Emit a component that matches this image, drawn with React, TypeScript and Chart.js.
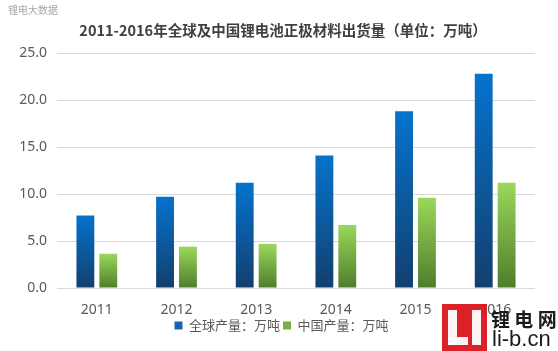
import React, { useEffect, useRef } from "react";
import { Chart, registerables } from "chart.js";

Chart.register(...registerables);

const categories = ["2011", "2012", "2013", "2014", "2015", "2016"];
const globalOutput = [7.7, 9.7, 11.2, 14.1, 18.8, 22.8];
const chinaOutput = [3.65, 4.4, 4.7, 6.7, 9.6, 11.2];
const seriesNames = ["全球产量：万吨", "中国产量：万吨"];
const titleText = "2011-2016年全球及中国锂电池正极材料出货量（单位：万吨）";
const watermarkText = "锂电大数据";
const logoTexts = ["锂电网", "li-b.cn"];

const FONT = "'Noto Sans', 'Noto Sans CJK SC', sans-serif";
const CJK = "'Noto Sans CJK SC', sans-serif";

function gradientFill(top: string, bottom: string, solid: string) {
  return (ctx: any) => {
    const chart = ctx.chart;
    const ys = chart.scales && chart.scales.y;
    if (!ys || typeof ctx.raw !== "number") return solid;
    const t = ys.getPixelForValue(ctx.raw);
    const b = ys.getPixelForValue(0);
    if (!isFinite(t) || !isFinite(b) || t === b) return solid;
    const g = chart.ctx.createLinearGradient(0, t, 0, b);
    g.addColorStop(0, top);
    g.addColorStop(1, bottom);
    return g;
  };
}

const decorPlugin = {
  id: "decor",
  afterLayout(chart: any) {
    const lg = chart.legend;
    if (lg) {
      lg.left += 14;
      lg.right += 14;
    }
  },
  afterDraw(chart: any) {
    const c = chart.ctx;
    c.save();
    // title
    c.fillStyle = "#404040";
    c.font = `bold 14.5px ${CJK}`;
    c.textBaseline = "middle";
    c.textAlign = "center";
    c.fillText(titleText, 283, 30);
    // watermark
    c.fillStyle = "#a6a6a6";
    c.font = `10px ${CJK}`;
    c.textAlign = "left";
    c.fillText(watermarkText, 8, 10);
    // logo
    c.globalAlpha = 0.95;
    c.fillStyle = "#d9161c";
    c.fillRect(442, 304, 45, 47);
    c.fillStyle = "#ffffff";
    c.fillRect(448, 310, 9, 35);
    c.fillRect(448, 337, 20, 8);
    c.fillRect(472, 310, 9, 35);
    c.globalAlpha = 1;
    c.fillStyle = "#1a1a1a";
    c.font = `bold 19px ${CJK}`;
    c.fillText(logoTexts[0].split("").join(" "), 491, 320);
    c.font = `22px 'Liberation Sans Narrow', 'Liberation Sans', sans-serif`;
    c.fillText(logoTexts[1], 492, 340);
    c.restore();
  },
};

export default function App() {
  const ref = useRef<HTMLCanvasElement>(null);
  useEffect(() => {
    if (!ref.current) return;
    const chart = new Chart(ref.current, {
      type: "bar",
      data: {
        labels: categories,
        datasets: [
          {
            label: seriesNames[0],
            data: globalOutput,
            backgroundColor: gradientFill("#0573cc", "#133f6e", "#1565b4"),
            categoryPercentage: 0.575,
            barPercentage: 0.78,
          },
          {
            label: seriesNames[1],
            data: chinaOutput,
            backgroundColor: gradientFill("#9ad85a", "#4f7d2c", "#78b043"),
            categoryPercentage: 0.575,
            barPercentage: 0.78,
          },
        ],
      },
      options: {
        responsive: false,
        animation: false,
        layout: { padding: { left: 0, right: 23, top: 53, bottom: 9 } },
        plugins: {
          title: { display: false },
          legend: {
            position: "bottom",
            labels: {
              color: "#595959",
              font: { family: CJK, size: 13 },
              boxWidth: 8,
              boxHeight: 8,
              padding: 3,
              generateLabels: () => [
                { text: seriesNames[0], fillStyle: "#1565b4", strokeStyle: "#1565b4", lineWidth: 0, datasetIndex: 0, fontColor: "#595959" },
                { text: seriesNames[1], fillStyle: "#78b043", strokeStyle: "#78b043", lineWidth: 0, datasetIndex: 1, fontColor: "#595959" },
              ] as any,
            },
          },
          tooltip: { enabled: false },
        },
        scales: {
          x: {
            grid: { display: false },
            border: { display: false },
            ticks: { color: "#595959", font: { family: FONT, size: 14 }, padding: 6 },
            afterFit: (s: any) => { s.height = 28; },
          },
          y: {
            min: 0,
            max: 25,
            ticks: {
              stepSize: 5,
              color: "#595959",
              font: { family: FONT, size: 14 },
              padding: 10,
              callback: (v: any) => Number(v).toFixed(1),
            },
            grid: { color: "#d9d9d9", drawTicks: false },
            border: { display: false },
            afterFit: (s: any) => { s.width = 57; },
          },
        },
      },
      plugins: [decorPlugin],
    });
    return () => chart.destroy();
  }, []);
  return (
    <div style={{ position: "fixed", left: 0, top: 0, width: 558, height: 351, background: "#fff" }}>
      <canvas ref={ref} width={558} height={351} style={{ display: "block" }} />
    </div>
  );
}
